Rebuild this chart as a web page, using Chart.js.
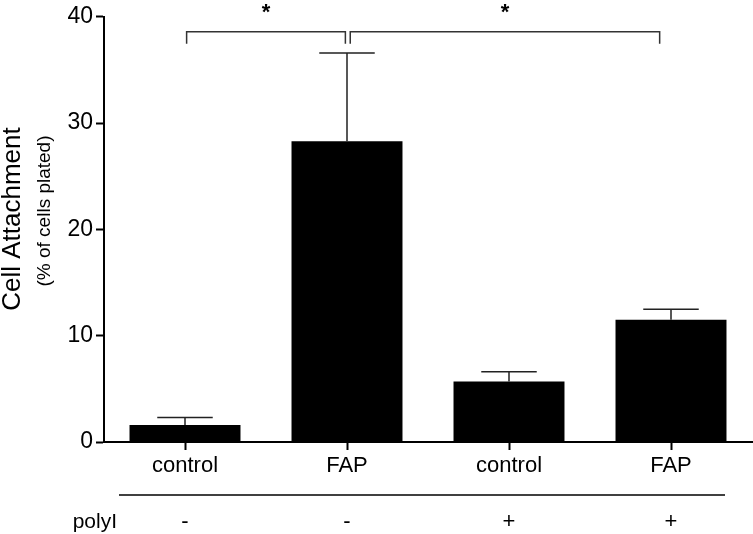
<!DOCTYPE html>
<html>
<head>
<meta charset="utf-8">
<script src="https://cdn.jsdelivr.net/npm/chart.js@4/dist/chart.umd.min.js"></script>
<style>
  html, body { margin: 0; padding: 0; background: #fff; }
  #wrap { width: 753px; height: 534px; }
</style>
</head>
<body>
<div id="wrap"><canvas id="c" width="753" height="534"></canvas></div>
<script>
// ---- data ----
const categories = ['control', 'FAP', 'control', 'FAP'];
const attachment = [1.6, 28.3, 5.7, 11.5];
const attachmentSEM = [0.7, 8.3, 0.9, 1.0];
const polyILabels = ['-', '-', '+', '+'];
const yTickValues = [0, 10, 20, 30, 40];
const bracketFrom = [0.01, 1.02];
const bracketTo = [0.99, 2.93];
const bracketLevel = [38.6, 38.6];
const bracketMarks = ['*', '*'];
const yTitle = 'Cell Attachment';
const ySubTitle = '(% of cells plated)';
const rowLabel = 'polyI';

const FONT = '"Liberation Sans", Arial, Helvetica, sans-serif';

function catPixel(xScale, pos) {
  const i0 = Math.floor(pos);
  const i1 = Math.min(i0 + 1, categories.length - 1);
  const p0 = xScale.getPixelForValue(i0);
  const p1 = xScale.getPixelForValue(i1);
  return p0 + (p1 - p0) * (pos - i0);
}

const extras = {
  id: 'extras',
  afterDatasetsDraw(chart) {
    const ctx = chart.ctx;
    const x = chart.scales.x, y = chart.scales.y;
    const meta = chart.getDatasetMeta(0);
    ctx.save();
    // error bars (upper only)
    ctx.strokeStyle = '#222';
    ctx.lineWidth = 1.5;
    meta.data.forEach((bar, i) => {
      const top = y.getPixelForValue(attachment[i] + attachmentSEM[i]);
      const base = y.getPixelForValue(attachment[i]);
      const half = bar.width / 4;
      ctx.beginPath();
      ctx.moveTo(bar.x, base);
      ctx.lineTo(bar.x, top);
      ctx.moveTo(bar.x - half, top);
      ctx.lineTo(bar.x + half, top);
      ctx.stroke();
    });
    // significance brackets
    ctx.strokeStyle = '#333';
    ctx.lineWidth = 1.5;
    ctx.fillStyle = '#000';
    bracketFrom.forEach((f, i) => {
      const x1 = catPixel(x, f), x2 = catPixel(x, bracketTo[i]);
      const yy = y.getPixelForValue(bracketLevel[i]);
      ctx.beginPath();
      ctx.moveTo(x1, yy + 12);
      ctx.lineTo(x1, yy);
      ctx.lineTo(x2, yy);
      ctx.lineTo(x2, yy + 12);
      ctx.stroke();
      ctx.font = 'bold 22px ' + FONT;
      ctx.textAlign = 'center';
      ctx.textBaseline = 'alphabetic';
      ctx.fillText(bracketMarks[i], (x1 + x2) / 2, yy - 13);
    });
    ctx.restore();
  },
  afterDraw(chart) {
    const ctx = chart.ctx;
    const x = chart.scales.x;
    ctx.save();
    ctx.fillStyle = '#000';
    // y titles
    ctx.translate(13, 219);
    ctx.rotate(-Math.PI / 2);
    ctx.textAlign = 'center';
    ctx.textBaseline = 'middle';
    ctx.font = '26px ' + FONT;
    ctx.fillText(yTitle, 0, 0);
    ctx.restore();
    ctx.save();
    ctx.translate(45, 211);
    ctx.rotate(-Math.PI / 2);
    ctx.textAlign = 'center';
    ctx.textBaseline = 'middle';
    ctx.font = '19px ' + FONT;
    ctx.fillText(ySubTitle, 0, 0);
    ctx.restore();
    // polyI row
    ctx.save();
    ctx.strokeStyle = '#000';
    ctx.lineWidth = 1.5;
    ctx.beginPath();
    ctx.moveTo(119, 495);
    ctx.lineTo(725, 495);
    ctx.stroke();
    ctx.fillStyle = '#000';
    ctx.font = '21px ' + FONT;
    ctx.textBaseline = 'middle';
    ctx.textAlign = 'right';
    ctx.fillText(rowLabel, 117, 522);
    ctx.textAlign = 'center';
    ctx.font = '22px ' + FONT;
    polyILabels.forEach((s, i) => {
      ctx.fillText(s, x.getPixelForValue(i), 522);
    });
    ctx.restore();
  }
};

new Chart(document.getElementById('c'), {
  type: 'bar',
  data: {
    labels: categories,
    datasets: [{
      data: attachment,
      backgroundColor: '#000',
      borderWidth: 0,
      categoryPercentage: 1.0,
      barPercentage: 0.685
    }]
  },
  options: {
    responsive: false,
    animation: false,
    devicePixelRatio: 1,
    layout: { padding: { left: 0, right: 1, top: 10, bottom: 0 } },
    plugins: { legend: { display: false }, tooltip: { enabled: false } },
    scales: {
      x: {
        type: 'category',
        offset: true,
        grid: { display: true, drawOnChartArea: false, offset: false, tickLength: 8, tickColor: '#000', tickWidth: 2 },
        border: { display: true, color: '#000', width: 2 },
        ticks: { color: '#000', font: { family: FONT, size: 22 }, padding: 3, maxRotation: 0 },
        afterFit(s) { s.height = 92; }
      },
      y: {
        min: 0, max: 40,
        afterBuildTicks(s) { s.ticks = yTickValues.map(v => ({ value: v })); },
        grid: { display: true, drawOnChartArea: false, tickLength: 8, tickColor: '#000', tickWidth: 2 },
        border: { display: true, color: '#000', width: 2 },
        ticks: { color: '#000', font: { family: FONT, size: 23 }, padding: 3 },
        afterFit(s) { s.width = 104; }
      }
    }
  },
  plugins: [extras]
});
</script>
</body>
</html>
